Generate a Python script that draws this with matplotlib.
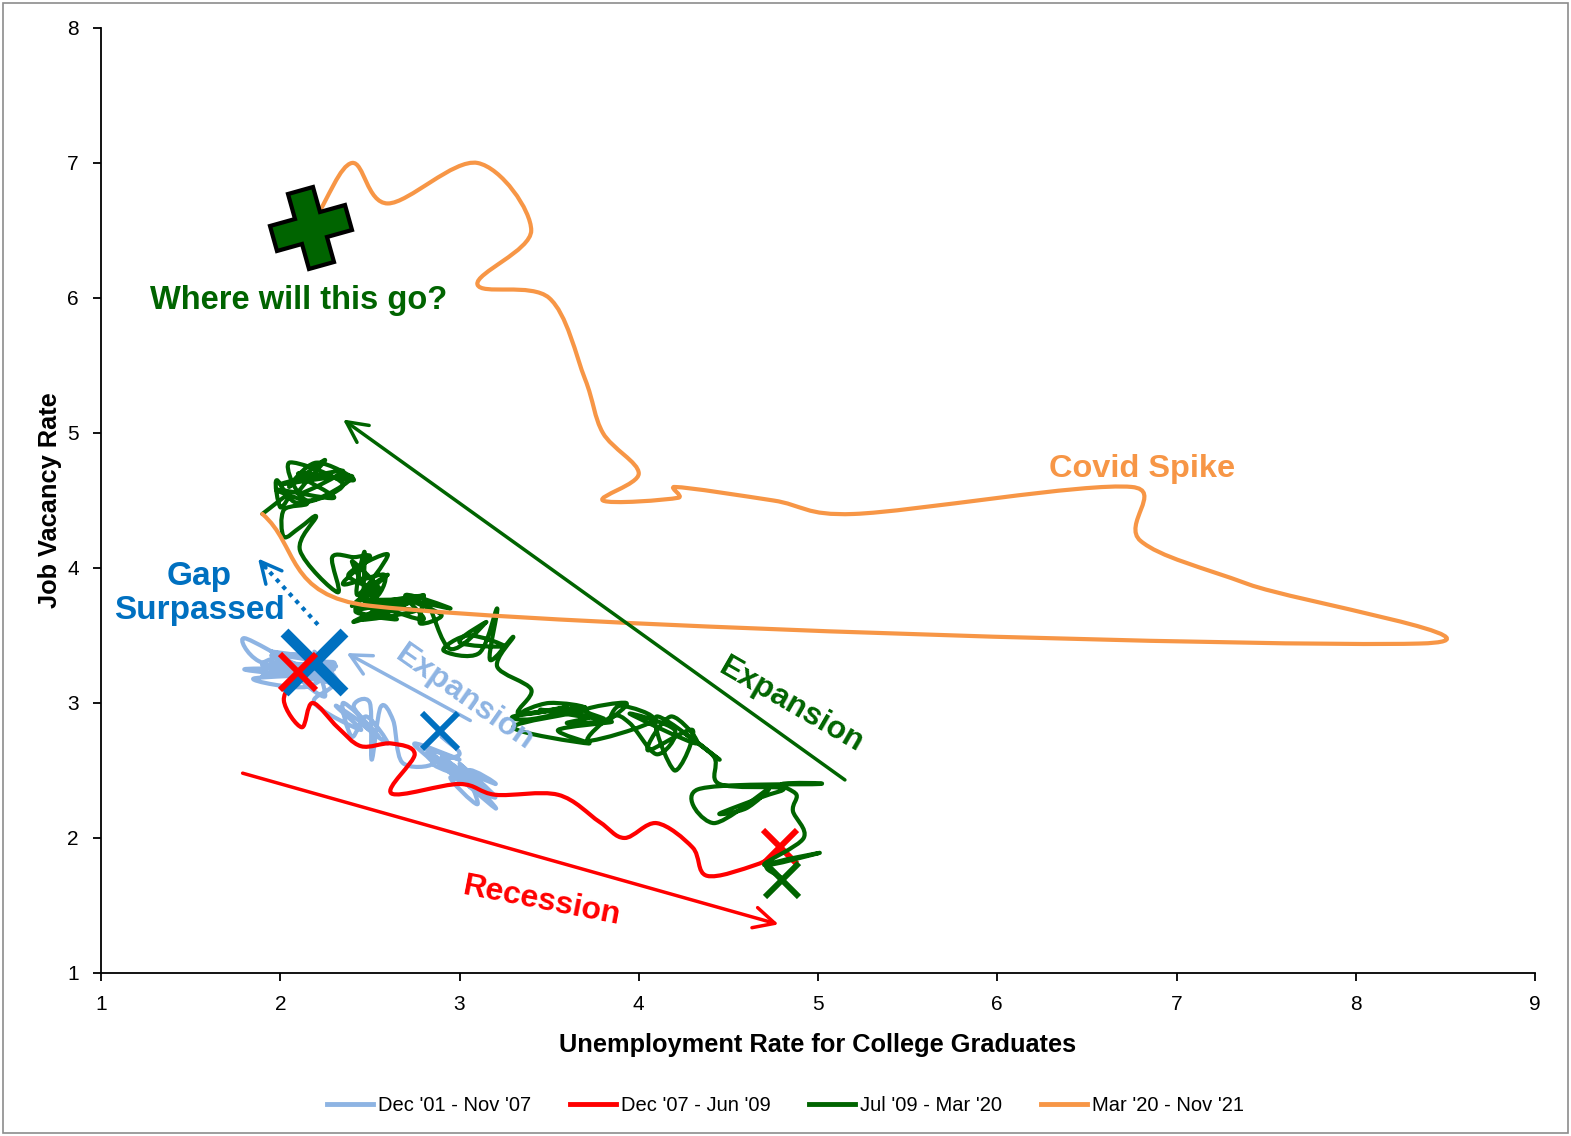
import numpy as np
import matplotlib
matplotlib.use("Agg")
import matplotlib.pyplot as plt
from matplotlib.path import Path
from matplotlib.patches import PathPatch, Rectangle
from matplotlib.lines import Line2D
from matplotlib.markers import MarkerStyle
from matplotlib.transforms import Affine2D

plt.rcParams['font.family'] = ['Liberation Sans', 'DejaVu Sans']

# ---------------- data ----------------
x_ticks = [1, 2, 3, 4, 5, 6, 7, 8, 9]
y_ticks = [1, 2, 3, 4, 5, 6, 7, 8]

series_labels = ["Dec '01 - Nov '07", "Dec '07 - Jun '09", "Jul '09 - Mar '20", "Mar '20 - Nov '21"]

# Dec '01 - Nov '07 (light blue)
blue_x = [2.90,
          3.00, 2.85, 3.05, 2.90, 3.10, 2.95, 3.15, 3.00, 3.20, 2.95, 3.10, 3.05,
          3.20, 2.90, 3.15, 3.05, 3.20, 2.85, 3.10, 2.95, 2.82, 3.00, 2.75, 2.85,
          2.68, 2.63, 2.56, 2.51, 2.50, 2.41, 2.55, 2.45, 2.60, 2.48, 2.40, 2.35,
          2.50, 2.31, 2.45, 2.19, 2.30, 2.19, 2.35, 2.20, 1.95, 2.30, 1.90, 2.25,
          1.95, 2.31, 1.80, 2.20, 1.88, 1.80, 2.10, 2.28, 1.85, 2.15, 2.30, 2.00,
          2.25, 1.95, 2.20, 2.05, 2.30, 1.90, 2.15, 2.25, 2.10, 2.18, 2.10]
blue_y = [2.75,
          2.62, 2.55, 2.45, 2.60, 2.40, 2.50, 2.35, 2.55, 2.30, 2.45, 2.25, 2.50,
          2.40, 2.55, 2.30, 2.45, 2.22, 2.62, 2.35, 2.48, 2.65, 2.58, 2.70, 2.55,
          2.56, 2.87, 2.97, 2.58, 3.00, 2.97, 2.75, 2.85, 2.70, 2.90, 2.75, 3.00,
          2.82, 2.98, 2.80, 3.00, 3.15, 3.38, 3.10, 3.20, 3.30, 3.25, 3.20, 3.30,
          3.38, 3.27, 3.25, 3.20, 3.31, 3.48, 3.28, 3.22, 3.18, 3.12, 3.30, 3.25,
          3.18, 3.35, 3.30, 3.22, 3.15, 3.28, 3.35, 3.05, 3.20, 3.30, 3.25]

# Dec '07 - Jun '09 (red)
red_x = [2.10, 2.02, 2.12, 2.18, 2.32, 2.45, 2.62, 2.75, 2.62, 3.00,
         3.20, 3.55, 3.78, 3.92, 4.10, 4.30, 4.38, 4.65, 4.80]
red_y = [3.23, 3.02, 2.82, 3.00, 2.82, 2.68, 2.70, 2.62, 2.33, 2.40,
         2.32, 2.32, 2.12, 2.00, 2.11, 1.93, 1.72, 1.80, 1.90]

# Jul '09 - Mar '20 (green)
green_x = [4.80, 4.72, 5.01, 4.70, 4.92, 4.86,
           4.88, 4.80, 5.01, 4.33, 4.42, 4.72, 4.60, 4.45, 4.68, 4.80, 4.45, 4.42,
           4.25, 4.45, 4.10, 4.20, 4.30, 4.05, 4.18, 4.32, 3.95, 4.20, 4.10, 3.95,
           3.85, 3.72, 4.08, 3.90, 3.84, 3.93, 3.70, 3.80, 3.45, 3.72, 3.60, 3.85,
           3.55, 3.72, 3.30, 3.70, 3.50, 3.35, 3.70, 3.40, 3.30, 3.60, 3.33, 3.40,
           3.21, 3.30, 3.17, 3.21, 3.11, 2.91, 3.05, 3.25, 3.00, 3.15, 2.95, 2.82,
           2.78, 2.90, 2.75, 2.95, 2.70, 2.80, 2.60, 2.75, 2.45, 2.80, 2.55, 2.42,
           2.62, 2.41, 2.80, 2.50, 2.65, 2.42, 2.72, 2.45, 2.60, 2.40, 2.55, 2.47,
           2.47, 2.43, 2.60, 2.38, 2.55, 2.40, 2.52, 2.58, 2.35, 2.50, 2.41, 2.29,
           2.32, 2.11, 2.20, 2.11, 2.02, 2.02, 2.15, 1.98, 2.30, 2.10, 2.41, 2.20,
           2.05, 2.25, 2.10, 2.35, 2.00, 2.40, 2.15, 2.05, 2.35, 2.10, 1.98, 2.00,
           2.05, 1.90]
green_y = [1.70, 1.80, 1.89, 1.80, 2.00, 2.20,
           2.32, 2.40, 2.40, 2.36, 2.11, 2.36, 2.22, 2.18, 2.30, 2.37, 2.40, 2.60,
           2.78, 2.58, 2.90, 2.50, 2.80, 2.65, 2.90, 2.70, 2.92, 2.80, 2.62, 2.85,
           2.90, 2.72, 2.87, 2.98, 2.88, 3.00, 2.95, 2.88, 2.95, 2.90, 2.85, 2.86,
           2.80, 2.70, 2.82, 2.95, 3.00, 2.92, 2.97, 2.88, 2.90, 2.97, 2.92, 3.10,
           3.27, 3.49, 3.32, 3.70, 3.37, 3.39, 3.50, 3.42, 3.45, 3.60, 3.40, 3.74,
           3.59, 3.65, 3.75, 3.70, 3.80, 3.62, 3.70, 3.68, 3.62, 3.80, 3.65, 3.70,
           3.75, 3.60, 3.79, 3.72, 3.62, 3.68, 3.76, 3.78, 3.95, 3.72, 3.85, 3.75,
           4.12, 3.80, 4.10, 3.95, 3.85, 4.05, 3.78, 3.95, 3.88, 4.08, 4.08, 4.08,
           3.82, 4.13, 4.38, 4.30, 4.23, 4.43, 4.48, 4.58, 4.52, 4.70, 4.65, 4.78,
           4.60, 4.80, 4.55, 4.72, 4.62, 4.68, 4.50, 4.78, 4.62, 4.48, 4.65, 4.45,
           4.55, 4.40]

# Mar '20 - Nov '21 (orange)
orange_x = [1.90, 2.50, 8.35, 7.40, 6.80, 6.75, 5.20, 4.75, 4.20, 4.22, 3.80,
            4.00, 3.80, 3.70, 3.50, 3.10, 3.40, 3.10, 2.60, 2.40, 2.20]
orange_y = [4.40, 3.72, 3.44, 3.88, 4.20, 4.60, 4.40, 4.50, 4.60, 4.52, 4.50,
            4.70, 5.00, 5.40, 6.00, 6.10, 6.50, 7.00, 6.70, 7.00, 6.60]

# marker annotations (x, y)
start_blue = (2.89, 2.79)
gap_point = (2.19, 3.30)
red_start = (2.10, 3.23)
red_end = (4.79, 1.93)
green_start = (4.80, 1.69)
future_point = (2.17, 6.52)

C_LBLUE = '#8EB4E3'
C_RED = '#FF0000'
C_GREEN = '#006400'
C_ORANGE = '#F79646'
C_BLUE = '#0070C0'

# ---------------- figure ----------------
fig = plt.figure(figsize=(15.71, 11.36), dpi=100)
ax = fig.add_axes([0.0643, 0.1435, 0.9771 - 0.0643, 0.9754 - 0.1435])
ax.set_xlim(1, 9)
ax.set_ylim(1, 8)
ax.set_xticks(x_ticks)
ax.set_yticks(y_ticks)
ax.tick_params(direction='out', length=6, width=1.3, labelsize=15, pad=10)
for s in ['top', 'right']:
    ax.spines[s].set_visible(False)
for s in ['left', 'bottom']:
    ax.spines[s].set_linewidth(1.3)

ax.set_xlabel('Unemployment Rate for College Graduates', fontsize=18.3, fontweight='bold')
ax.set_ylabel('Job Vacancy Rate', fontsize=18.3, fontweight='bold')
ax.xaxis.set_label_coords(0.5, -0.063)
ax.yaxis.set_label_coords(-0.027, 0.5)


def smooth_curve(xs, ys, cap=0.6):
    """Smoothed (Excel-like) Bezier path through the data points.
    Catmull-Rom tangents (1/6 of neighbour chord), limited relative to
    the length of the segment so that uneven spacing does not overshoot."""
    pts = ax.transData.transform(np.column_stack([xs, ys]))
    n = len(pts)
    verts = [pts[0]]
    codes = [Path.MOVETO]

    def ctrl(prev, cur, nxt, seg):
        t = nxt - prev
        L = np.hypot(*t)
        if L == 0:
            return np.zeros(2)
        length = min(L / 6.0, cap * seg)
        return t / L * length

    for i in range(n - 1):
        p0 = pts[i - 1] if i > 0 else pts[i]
        p1 = pts[i]
        p2 = pts[i + 1]
        p3 = pts[i + 2] if i + 2 < n else pts[i + 1]
        d12 = np.hypot(*(p2 - p1))
        if i == 0:
            c1 = p1 + (p2 - p1) / 3.0
        else:
            c1 = p1 + ctrl(p0, p1, p2, d12)
        if i + 2 >= n:
            c2 = p2 - (p2 - p1) / 3.0
        else:
            c2 = p2 - ctrl(p1, p2, p3, d12)
        verts += [c1, c2, p2]
        codes += [Path.CURVE4] * 3
    verts = ax.transData.inverted().transform(np.array(verts))
    return Path(verts, codes)


def draw_series(xs, ys, color, z):
    patch = PathPatch(smooth_curve(xs, ys), facecolor='none', edgecolor=color,
                      lw=3.0, zorder=z, transform=ax.transData,
                      capstyle='round', joinstyle='round')
    ax.add_patch(patch)


draw_series(blue_x, blue_y, C_LBLUE, 2.0)
draw_series(red_x, red_y, C_RED, 2.1)
draw_series(green_x, green_y, C_GREEN, 2.3)
draw_series(orange_x, orange_y, C_ORANGE, 2.4)

# ---------------- arrows ----------------
def arrow(tail, tip, color, lw=2.5, ls='-', z=3):
    ax.annotate('', xy=tip, xytext=tail,
                arrowprops=dict(arrowstyle='->,head_length=0.6,head_width=0.3',
                                color=color, lw=lw, linestyle=ls,
                                mutation_scale=25, shrinkA=0, shrinkB=0),
                zorder=z)

arrow((5.15, 2.43), (2.35, 5.10), C_GREEN)
arrow((1.79, 2.48), (4.78, 1.36), C_RED)
arrow((3.06, 2.87), (2.37, 3.37), C_LBLUE)
# dotted "gap surpassed" arrow
ax.plot([2.21, 1.90], [3.58, 4.03], color=C_BLUE, lw=3, linestyle=(0, (1, 1.3)), zorder=3)
arrow((1.92, 4.00), (1.876, 4.07), C_BLUE, lw=2.5)

# ---------------- markers ----------------
ax.plot(*gap_point, marker='x', markersize=43, mew=8, color=C_BLUE, zorder=4)
ax.plot(*red_start, marker='x', markersize=26, mew=4.3, color=C_RED, zorder=4.1)
ax.plot(*start_blue, marker='x', markersize=26, mew=4.3, color=C_BLUE, zorder=4)
ax.plot(*red_end, marker='x', markersize=25, mew=4.3, color=C_RED, zorder=2.2)
ax.plot(*green_start, marker='x', markersize=25, mew=4.3, color=C_GREEN, zorder=4)
plus = MarkerStyle('P', transform=Affine2D().rotate_deg(15))
ax.plot(*future_point, marker=plus, markersize=56, markerfacecolor=C_GREEN,
        markeredgecolor='black', mew=3, zorder=5)

# ---------------- texts ----------------
ax.text(2.10, 5.98, 'Where will this go?', color=C_GREEN, fontsize=23.5,
        fontweight='bold', ha='center', va='center', zorder=6)
ax.text(6.81, 4.73, 'Covid Spike', color=C_ORANGE, fontsize=23.4,
        fontweight='bold', ha='center', va='center', zorder=6)
ax.text(1.55, 3.81, 'Gap\nSurpassed', color=C_BLUE, fontsize=24,
        fontweight='bold', ha='center', va='center', linespacing=1.1, zorder=6)
ax.text(3.03, 3.04, 'Expansion', color=C_LBLUE, fontsize=23, fontweight='bold',
        ha='center', va='center', rotation=-35, rotation_mode='anchor', zorder=6)
ax.text(4.85, 2.98, 'Expansion', color=C_GREEN, fontsize=23, fontweight='bold',
        ha='center', va='center', rotation=-30, rotation_mode='anchor', zorder=6)
ax.text(3.46, 1.53, 'Recession', color=C_RED, fontsize=23, fontweight='bold',
        ha='center', va='center', rotation=-11, rotation_mode='anchor', zorder=6)

# ---------------- legend ----------------
handles = [Line2D([], [], color=c, lw=3.5) for c in [C_LBLUE, C_RED, C_GREEN, C_ORANGE]]
fig.legend(handles, series_labels, loc='center', bbox_to_anchor=(0.5, 0.027),
           ncol=4, frameon=False, fontsize=14.5, handlelength=2.3,
           handletextpad=0.25, columnspacing=1.9)

# outer border
fig.patches.append(Rectangle((0.002, 0.003), 0.996, 0.994, transform=fig.transFigure,
                             fill=False, edgecolor='#8c8c8c', lw=1.2))

fig.savefig('out.png', dpi=100)
